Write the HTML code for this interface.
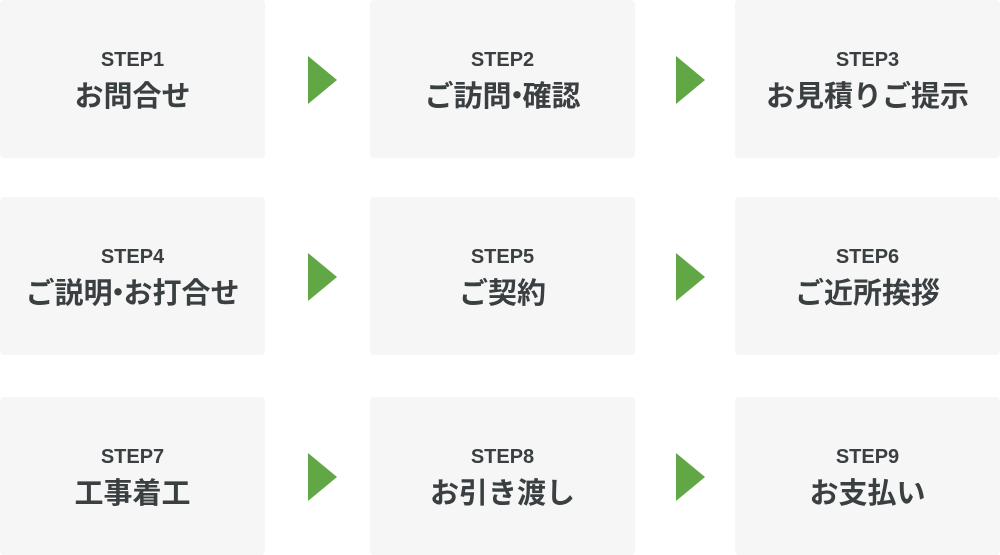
<!DOCTYPE html>
<html><head><meta charset="utf-8"><style>
body{margin:0;width:1000px;height:555px;background:#fff;position:relative;overflow:hidden;font-family:"Liberation Sans","Noto Sans CJK JP",sans-serif;color:#3a3f42}
.b{position:absolute;width:265px;height:158px;background:#f6f6f6;border-radius:4px;text-align:center}
.s{position:absolute;top:48px;left:0;right:0;font-size:20px;font-weight:bold;line-height:24px}
.t{position:absolute;top:78px;left:0;right:0;font-size:29px;font-weight:bold;line-height:38px;white-space:nowrap}
.d{display:inline-block;margin:0 -9px}
.a{position:absolute;width:0;height:0;border-top:24px solid transparent;border-bottom:24px solid transparent;border-left:29px solid #62a745}
</style></head><body>
<div class="b" style="left:0;top:0"><div class="s">STEP1</div><div class="t">お問合せ</div></div>
<div class="b" style="left:370px;top:0"><div class="s">STEP2</div><div class="t">ご訪問<span class="d">・</span>確認</div></div>
<div class="b" style="left:735px;top:0"><div class="s">STEP3</div><div class="t">お見積りご提示</div></div>
<div class="b" style="left:0;top:197px"><div class="s">STEP4</div><div class="t">ご説明<span class="d">・</span>お打合せ</div></div>
<div class="b" style="left:370px;top:197px"><div class="s">STEP5</div><div class="t">ご契約</div></div>
<div class="b" style="left:735px;top:197px"><div class="s">STEP6</div><div class="t">ご近所挨拶</div></div>
<div class="b" style="left:0;top:397px"><div class="s">STEP7</div><div class="t">工事着工</div></div>
<div class="b" style="left:370px;top:397px"><div class="s">STEP8</div><div class="t">お引き渡し</div></div>
<div class="b" style="left:735px;top:397px"><div class="s">STEP9</div><div class="t">お支払い</div></div>
<div class="a" style="left:308px;top:56px"></div>
<div class="a" style="left:676px;top:56px"></div>
<div class="a" style="left:308px;top:253px"></div>
<div class="a" style="left:676px;top:253px"></div>
<div class="a" style="left:308px;top:453px"></div>
<div class="a" style="left:676px;top:453px"></div>
</body></html>
